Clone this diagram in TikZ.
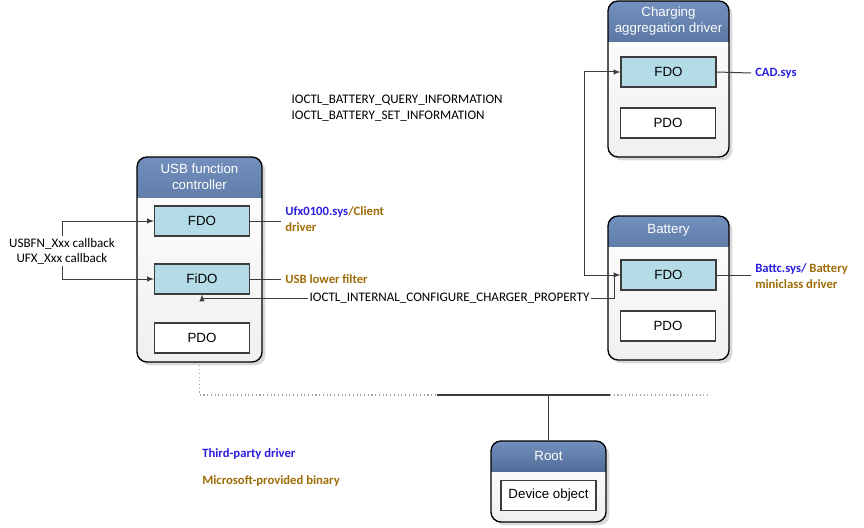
\documentclass[tikz,border=0pt]{standalone}
\usepackage{fontspec}
\setmainfont{Liberation Sans}
\newfontfamily\callfont{Carlito}
\usetikzlibrary{shadows,positioning}
\definecolor{hdtop}{HTML}{7390BE}
\definecolor{hdbot}{HTML}{1A3057}
\definecolor{fdofill}{HTML}{B4DCE6}
\definecolor{edgegray}{HTML}{3C3C3C}
\definecolor{tpblue}{HTML}{2A1EE0}
\definecolor{msbrown}{HTML}{9E6C08}
\tikzset{
	stack box/.style={draw=black, line width=1pt, rounded corners=7.5pt,
		top color=white, bottom color=gray!12, inner sep=0pt,
		drop shadow={opacity=0.3, shadow xshift=2.5pt, shadow yshift=-2.5pt},
		path picture={\fill[sharp corners, top color=hdtop, bottom color=hdbot]
			(path picture bounding box.north west) rectangle
			([yshift=-#1]path picture bounding box.north east);}
	},
	head text/.style={text=white, align=center, inner sep=0pt, anchor=north,
		font=\fontsize{10}{12}\selectfont},
	inner box/.style={draw=edgegray, line width=0.8pt, fill=fdofill,
		minimum width=71.25pt, minimum height=22.5pt, inner sep=0pt,
		font=\fontsize{10}{12}\selectfont},
	pdo box/.style={inner box, fill=white},
	side label/.style={font=\callfont\bfseries\fontsize{9.5}{12}\selectfont,
		text=msbrown, align=left, inner xsep=3pt, inner ysep=0pt},
	call text/.style={font=\callfont\fontsize{9.8}{11.25}\selectfont,
		align=center, inner sep=1pt},
	link/.style={draw=edgegray, line width=0.75pt},
	bus dots/.style={draw=gray!70, line width=0.8pt, dotted}
}
\begin{document}
\begin{tikzpicture}[x=0.75pt,y=-0.75pt]
	\useasboundingbox (0,0) rectangle (864,528);
	\node[stack box=30pt, minimum width=93.75pt, minimum height=153.75pt] (usb) at (199.5,259.5) {};
	\node[head text, minimum height=30pt] (usbhd) at (usb.north) {USB function\\controller};
	\node[inner box] (ufdo) at (202,221) {FDO};
	\node[inner box] (fido) at (202,279) {FiDO};
	\node[pdo box] (updo) at (202,338) {PDO};

	\node[stack box=30.75pt, minimum width=90.75pt, minimum height=117pt] (cad) at (668.5,79) {};
	\node[head text, minimum height=30.75pt] (cadhd) at (cad.north) {Charging\\aggregation driver};
	\node[inner box] (cfdo) at (668.5,72) {FDO};
	\node[pdo box] (cpdo) at (668,123) {PDO};

	\node[stack box=22.5pt, minimum width=90.75pt, minimum height=108pt] (batt) at (668.5,288) {};
	\node[head text, minimum height=22.5pt] (batthd) at (batt.north) {Battery};
	\node[inner box] (bfdo) at (668.5,275) {FDO};
	\node[pdo box] (bpdo) at (668,326) {PDO};

	\node[stack box=22.5pt, minimum width=86.25pt, minimum height=60.75pt] (root) at (548.5,481.5) {};
	\node[head text, minimum height=22.5pt] (roothd) at (root.north) {Root};
	\node[pdo box] (devobj) at (548.5,495.5) {Device object};

	\node[side label, anchor=west] (ufxlbl) at (281,219) {\textcolor{tpblue}{Ufx0100.sys}/Client\\driver};
	\node[side label, anchor=west] (filtlbl) at (281,279) {USB lower filter};
	\node[side label, anchor=west, text=tpblue] (cadlbl) at (751,73) {CAD.sys};
	\node[side label, anchor=west] (battlbl) at (751,276) {\textcolor{tpblue}{Battc.sys/} Battery\\miniclass driver};
	\draw[link] (ufdo.east) -- (ufdo.east -| ufxlbl.west);
	\draw[link] (fido.east) -- (filtlbl.west);
	\draw[link] (cfdo.east) -- (cadlbl.west);
	\draw[link] (bfdo.east) -- (bfdo.east -| battlbl.west);

	\node[call text] (cbtxt) at (62,251) {USBFN\_Xxx callback\\UFX\_Xxx callback};
	\draw[link,-latex] (cbtxt.north) |- (ufdo.west);
	\draw[link,-latex] (cbtxt.south) |- (fido.west);

	\node[call text, anchor=west] (ioquery) at (290,100) {IOCTL\_BATTERY\_QUERY\_INFORMATION};
	\node[call text, anchor=west] (ioset) at (290,116) {IOCTL\_BATTERY\_SET\_INFORMATION};

	\draw[link,latex-latex] (cfdo.west) -- ++(-36,0) |- (bfdo.west);
	\coordinate (chgtap) at ([xshift=-4.5pt]bfdo.west);
	\draw[link,-latex] (chgtap) -- ++(0,23) -| node[call text, fill=white, pos=0.2] (chglbl)
		{IOCTL\_INTERNAL\_CONFIGURE\_CHARGER\_PROPERTY} (fido.south);

	\coordinate (busl) at (437,395);
	\coordinate (busr) at (610,395);
	\coordinate (busend) at (708,395);
	\draw[bus dots] ([yshift=-2pt]usb.south) |- (busl);
	\draw[link, line width=1pt] (busl) -- (busr);
	\draw[bus dots] (busr) -- (busend);
	\draw[link] (root.north) -- (root.north |- busl);

	\node[side label, anchor=west, text=tpblue] (legtp) at (198,454) {Third-party driver};
	\node[side label, anchor=west] (legms) at (198,481) {Microsoft-provided binary};
\end{tikzpicture}
\end{document}
